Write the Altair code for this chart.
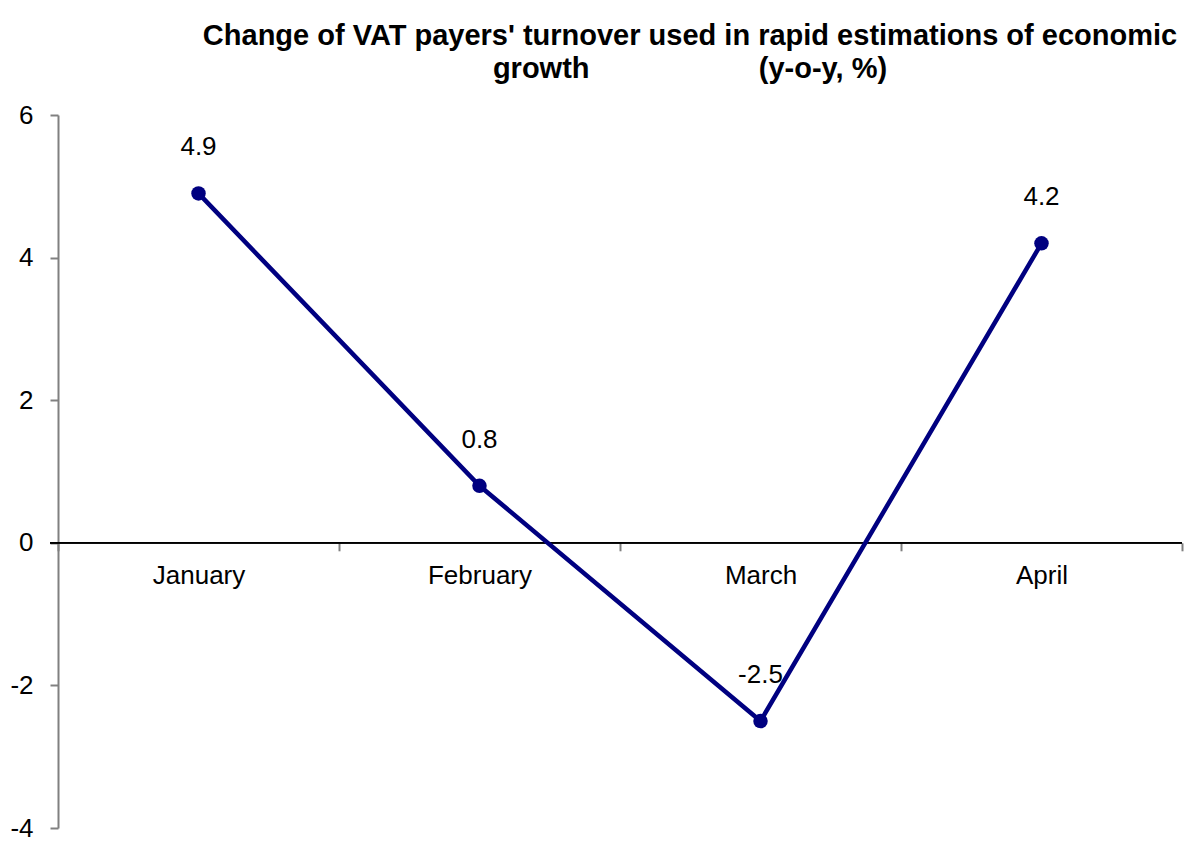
import altair as alt
import pandas as pd

months = ["January", "February", "March", "April"]
values = [4.9, 0.8, -2.5, 4.2]
labels = ["4.9", "0.8", "-2.5", "4.2"]
y_ticks = [-4, -2, 0, 2, 4, 6]
y_min, y_max = -4, 6

title_lines = [
    "Change of VAT payers' turnover used in rapid estimations of economic",
    "growth" + "\u00a0" * 21 + "(y-o-y, %)",
]

W, H = 1124, 713
FONT = "Liberation Sans"
NAVY = "#000080"
GREY = "#808080"

df = pd.DataFrame({"month": months, "value": values, "label": labels})

zero_offset = -H * (0 - y_min) / (y_max - y_min)

x = alt.X(
    "month:N",
    sort=months,
    scale=alt.Scale(paddingInner=0, paddingOuter=0),
    axis=alt.Axis(
        title=None,
        orient="bottom",
        offset=zero_offset,
        domain=False,
        tickBand="extent",
        ticks=True,
        tickSize=8,
        tickColor=GREY,
        tickWidth=2,
        labelAngle=0,
        labelFont=FONT,
        labelFontSize=26,
        labelColor="black",
        labelPadding=12,
        grid=False,
    ),
)
y = alt.Y(
    "value:Q",
    scale=alt.Scale(domain=[y_min, y_max], nice=False, zero=False),
    axis=alt.Axis(
        values=y_ticks,
        labelExpr="'' + datum.value",
        title=None,
        grid=False,
        domainColor=GREY,
        domainWidth=2,
        tickColor=GREY,
        tickWidth=2,
        tickSize=8,
        labelFont=FONT,
        labelFontSize=26,
        labelColor="black",
        labelPadding=17,
        labelFlush=False,
    ),
)

base = alt.Chart(df)

zero_rule = base.mark_rule(color="black", strokeWidth=1.5).encode(
    x=alt.value(-8), x2=alt.value(W), y=alt.datum(0)
)
line = base.mark_line(color=NAVY, strokeWidth=4.5).encode(x=x, y=y)
points = base.mark_point(filled=True, size=210, color=NAVY, opacity=1).encode(x=x, y=y)
texts = base.mark_text(
    dy=-38, baseline="alphabetic", font=FONT, fontSize=26, color="black"
).encode(x=x, y=y, text="label:N")

chart = (
    alt.layer(zero_rule, line, points, texts)
    .properties(
        width=W,
        height=H,
        title=alt.TitleParams(
            text=title_lines,
            font=FONT,
            fontSize=29,
            fontWeight="bold",
            color="black",
            anchor="middle",
            dx=70,
            offset=18,
            lineHeight=33,
        ),
        autosize=alt.AutoSizeParams(type="none"),
        padding={"left": 50, "top": 107, "right": 6, "bottom": 14},
        background="white",
    )
    .configure_view(stroke=None)
)

chart.save("out.html", embed_options={"renderer": "svg", "actions": False})
